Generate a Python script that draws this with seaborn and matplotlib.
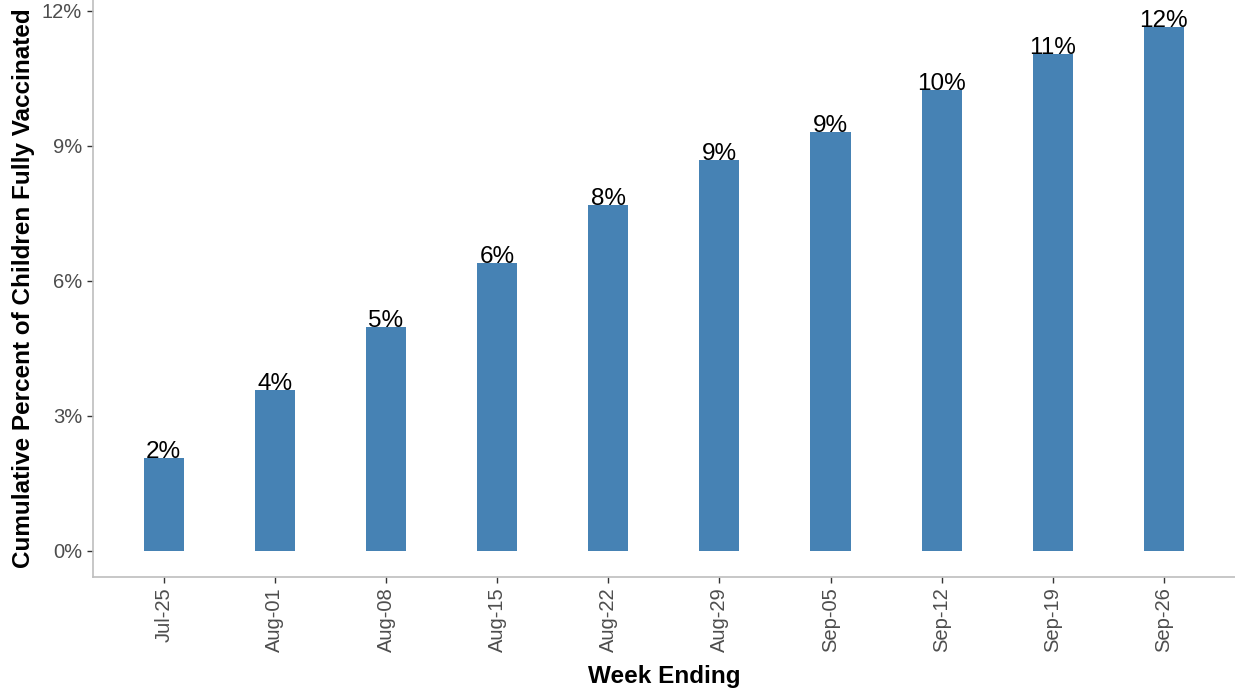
import pandas as pd
import seaborn as sns
import matplotlib.pyplot as plt
import numpy as np

# cumulative percent of children fully vaccinated, by week ending
weeks = ['Jul-25', 'Aug-01', 'Aug-08', 'Aug-15', 'Aug-22',
         'Aug-29', 'Sep-05', 'Sep-12', 'Sep-19', 'Sep-26']
pct = [2.07, 3.58, 4.98, 6.40, 7.69, 8.69, 9.31, 10.24, 11.05, 11.65]
yticks = [0, 3, 6, 9, 12]

sns.set_style('white')
plt.rcParams['font.family'] = ['Liberation Sans', 'DejaVu Sans']

df = pd.DataFrame({'week': weeks, 'pct': pct})

fig = plt.figure(figsize=(12.35, 6.93), dpi=100)
ax = fig.add_axes([0.075, 0.168, 0.925, 0.832])

sns.barplot(ax=ax, data=df, x='week', y='pct', color='#4682B4',
            saturation=1, width=0.36, linewidth=0)

for i, v in enumerate(pct):
    ax.text(i, v, f'{round(v):.0f}%', ha='center', va='baseline',
            fontsize=17.5, color='black')

ax.set_xlim(-0.64, 9.64)
ax.set_ylim(-0.57, 12.24)
ax.set_yticks(yticks)
ax.set_yticklabels([f'{t}%' for t in yticks])
ax.tick_params(axis='x', labelrotation=90)
ax.tick_params(axis='both', bottom=True, left=True, length=4.5, width=1,
               color='#333333', labelcolor='#4D4D4D', labelsize=14.5, pad=3)

for s in ['top', 'right']:
    ax.spines[s].set_visible(False)
for s in ['left', 'bottom']:
    ax.spines[s].set_color('#BEBEBE')
    ax.spines[s].set_linewidth(1.2)

ax.set_xlabel('Week Ending', fontsize=17.5, fontweight='bold', labelpad=9.5,
              color='black')
ax.set_ylabel('Cumulative Percent of Children Fully Vaccinated',
              fontsize=17.5, fontweight='bold', labelpad=5, color='black')

plt.savefig('out.png', dpi=100)
plt.close()
